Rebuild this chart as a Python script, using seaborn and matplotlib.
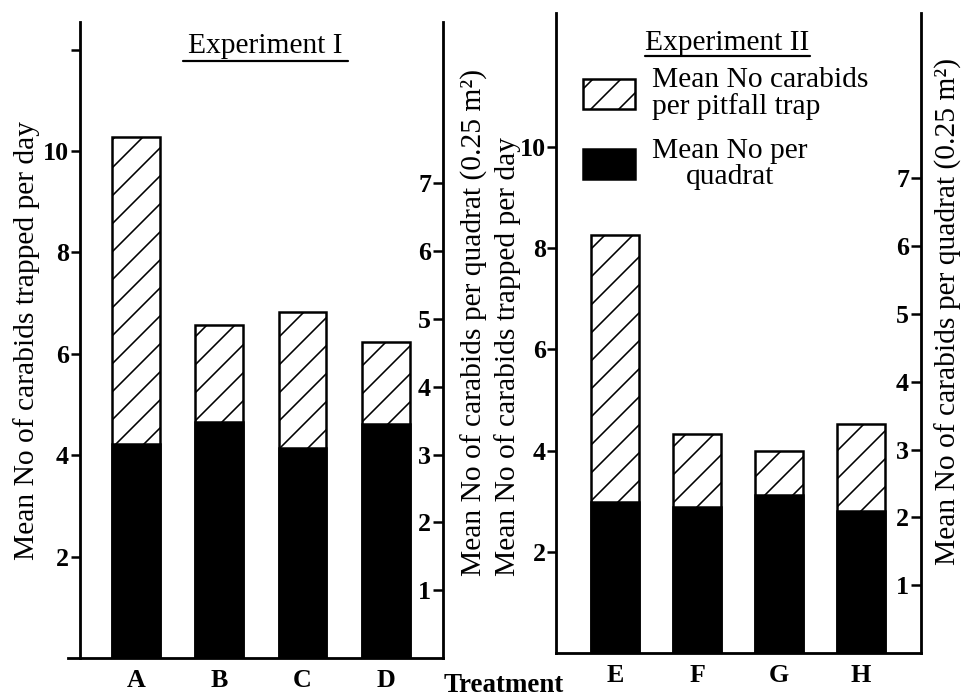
import matplotlib
matplotlib.use('Agg')
import matplotlib.pyplot as plt
import pandas as pd
import seaborn as sns
from matplotlib.patches import Patch
from matplotlib.lines import Line2D

# ---- data ----
treatments_exp1 = ['A', 'B', 'C', 'D']
pitfall_exp1 = [10.28, 6.57, 6.82, 6.23]      # mean no. carabids trapped per day (left axis)
quadrat_exp1 = [3.16, 3.48, 3.10, 3.45]       # mean no. per quadrat (right axis)

treatments_exp2 = ['E', 'F', 'G', 'H']
pitfall_exp2 = [8.26, 4.33, 3.99, 4.53]
quadrat_exp2 = [2.23, 2.15, 2.33, 2.09]

left_ticks_exp1 = [2, 4, 6, 8, 10, 12]
left_ticklabels_exp1 = ['2', '4', '6', '8', '10', '']
left_ticks_exp2 = [2, 4, 6, 8, 10]
left_ticklabels_exp2 = ['2', '4', '6', '8', '10']
right_ticks = [1, 2, 3, 4, 5, 6, 7]
right_ticklabels = ['1', '2', '3', '4', '5', '6', '7']

left_label = 'Mean No of carabids trapped per day'
right_label = 'Mean No of carabids per quadrat (0.25 m\u00b2)'
legend_labels = ['Mean No carabids\nper pitfall trap', 'Mean No per\nquadrat']

DPI = 84
W, H = 963, 697


def pt(px):
    return px * 72.0 / DPI


sns.set_style('ticks', {'axes.edgecolor': 'black', 'xtick.color': 'black',
                        'ytick.color': 'black', 'text.color': 'black',
                        'axes.labelcolor': 'black'})
plt.rcParams['font.family'] = ['Liberation Serif', 'DejaVu Serif']
plt.rcParams['font.weight'] = 'normal'
plt.rcParams['hatch.linewidth'] = pt(1.6)
plt.rcParams['hatch.color'] = 'black'

FS = pt(29.5)
TICK_FS = pt(26)
SPINE_W = pt(2.8)

fig = plt.figure(figsize=(W / DPI, H / DPI), dpi=DPI)


def rect(l, r, t, b):
    return [l / W, 1 - b / H, (r - l) / W, (b - t) / H]


def panel(box, cats, pit, quad, lticks, llabels, ytop_left, ytop_right,
          xlim, width, lab_left_xy, lab_right_xy, spine_ext=0.0, lpad=2):
    ax = fig.add_axes(rect(*box))
    df_p = pd.DataFrame({'Treatment': cats, 'value': pit})
    sns.barplot(data=df_p, x='Treatment', y='value', ax=ax, color='white',
                saturation=1, edgecolor='black', linewidth=pt(2.5),
                hatch='/', width=width, errorbar=None)
    ax2 = ax.twinx()
    df_q = pd.DataFrame({'Treatment': cats, 'value': quad})
    sns.barplot(data=df_q, x='Treatment', y='value', ax=ax2, color='black',
                saturation=1, edgecolor='black', linewidth=pt(2.5),
                width=width, errorbar=None)

    ax.set_xlim(*xlim)
    ax.set_ylim(0, ytop_left)
    ax2.set_ylim(0, ytop_right)

    # main axis styling
    for s in ('top', 'right'):
        ax.spines[s].set_visible(False)
    for s in ('left', 'bottom'):
        ax.spines[s].set_linewidth(SPINE_W)
        ax.spines[s].set_color('black')
    if spine_ext:
        ax.spines['bottom'].set_bounds(xlim[0] - spine_ext, xlim[1])
        ax.spines['bottom'].set_clip_on(False)
    ax.set_yticks(lticks, labels=llabels)
    ax.tick_params(axis='y', direction='out', length=pt(9), width=pt(2.5),
                   pad=pt(lpad), labelsize=TICK_FS)
    ax.tick_params(axis='x', length=0, pad=pt(11), labelsize=TICK_FS)
    for lbl in ax.get_yticklabels() + ax.get_xticklabels():
        lbl.set_fontweight('bold')
    ax.set_xlabel('')
    ax.set_ylabel(left_label, fontsize=FS)
    ax.yaxis.set_label_coords(*lab_left_xy)
    ax.yaxis.label.set_verticalalignment('center')
    ax.yaxis.label.set_horizontalalignment('center')

    # secondary (quadrat) axis: spine at right edge, ticks/labels inside
    for s in ('top', 'right', 'bottom'):
        ax2.spines[s].set_visible(False)
    ax2.spines['left'].set_position(('axes', 1.0))
    ax2.spines['left'].set_visible(True)
    ax2.spines['left'].set_linewidth(SPINE_W)
    ax2.spines['left'].set_color('black')
    ax2.yaxis.set_ticks_position('left')
    ax2.set_yticks(right_ticks, labels=right_ticklabels)
    ax2.tick_params(axis='y', direction='out', length=pt(10), width=pt(2.5),
                    pad=pt(2), labelsize=TICK_FS)
    for lbl in ax2.get_yticklabels():
        lbl.set_fontweight('bold')
    ax2.set_ylabel(right_label, fontsize=FS)
    ax2.yaxis.set_label_coords(*lab_right_xy)
    ax2.yaxis.label.set_verticalalignment('center')
    ax2.yaxis.label.set_horizontalalignment('center')
    ax2.yaxis.label.set_rotation(90)
    return ax, ax2


# Experiment I panel: box pixels l, r, t, b
panel((80, 443, 22, 658), treatments_exp1, pitfall_exp1, quadrat_exp1,
      left_ticks_exp1, left_ticklabels_exp1, 636 / 50.7, 636 / 67.8,
      (-0.67, 3.685), 0.57, (-0.146, 0.500), (1.085, 0.528), spine_ext=12 / 83.3)

# Experiment II panel
panel((556, 921, 13, 653), treatments_exp2, pitfall_exp2, quadrat_exp2,
      left_ticks_exp2, left_ticklabels_exp2, 640 / 50.6, 640 / 67.8,
      (-0.72, 3.73), 0.58, (-0.132, 0.464), (1.074, 0.534), lpad=1)

# titles with underline
fig.text(265 / W, 1 - 53 / H, 'Experiment I', ha='center', va='baseline', fontsize=FS)
fig.add_artist(Line2D([183 / W, 348 / W], [1 - 61 / H, 1 - 61 / H],
                      transform=fig.transFigure, color='black', lw=pt(2.2)))
fig.text(727 / W, 1 - 50 / H, 'Experiment II', ha='center', va='baseline', fontsize=FS)
fig.add_artist(Line2D([645 / W, 810 / W], [1 - 56 / H, 1 - 56 / H],
                      transform=fig.transFigure, color='black', lw=pt(2.2)))

# shared x label
fig.text(504 / W, 1 - 686 / H, 'Treatment', ha='center', va='center',
         fontsize=pt(27), fontweight='bold')

# legend
handles = [Patch(facecolor='white', edgecolor='black', hatch='/', linewidth=pt(2.5)),
           Patch(facecolor='black', edgecolor='black', linewidth=pt(2.5))]
leg = fig.legend(handles, legend_labels, loc='upper left',
                 bbox_to_anchor=(583 / W, 1 - 67 / H), frameon=False, fontsize=FS,
                 handlelength=52 / 29.5, handleheight=35 / 29.5, handletextpad=17 / 29.5,
                 labelspacing=0.6, borderpad=0, borderaxespad=0)
for t in leg.get_texts():
    t.set_linespacing(1.0)
leg.get_texts()[1].set_multialignment('center')

fig.savefig('out.png', dpi=DPI)
